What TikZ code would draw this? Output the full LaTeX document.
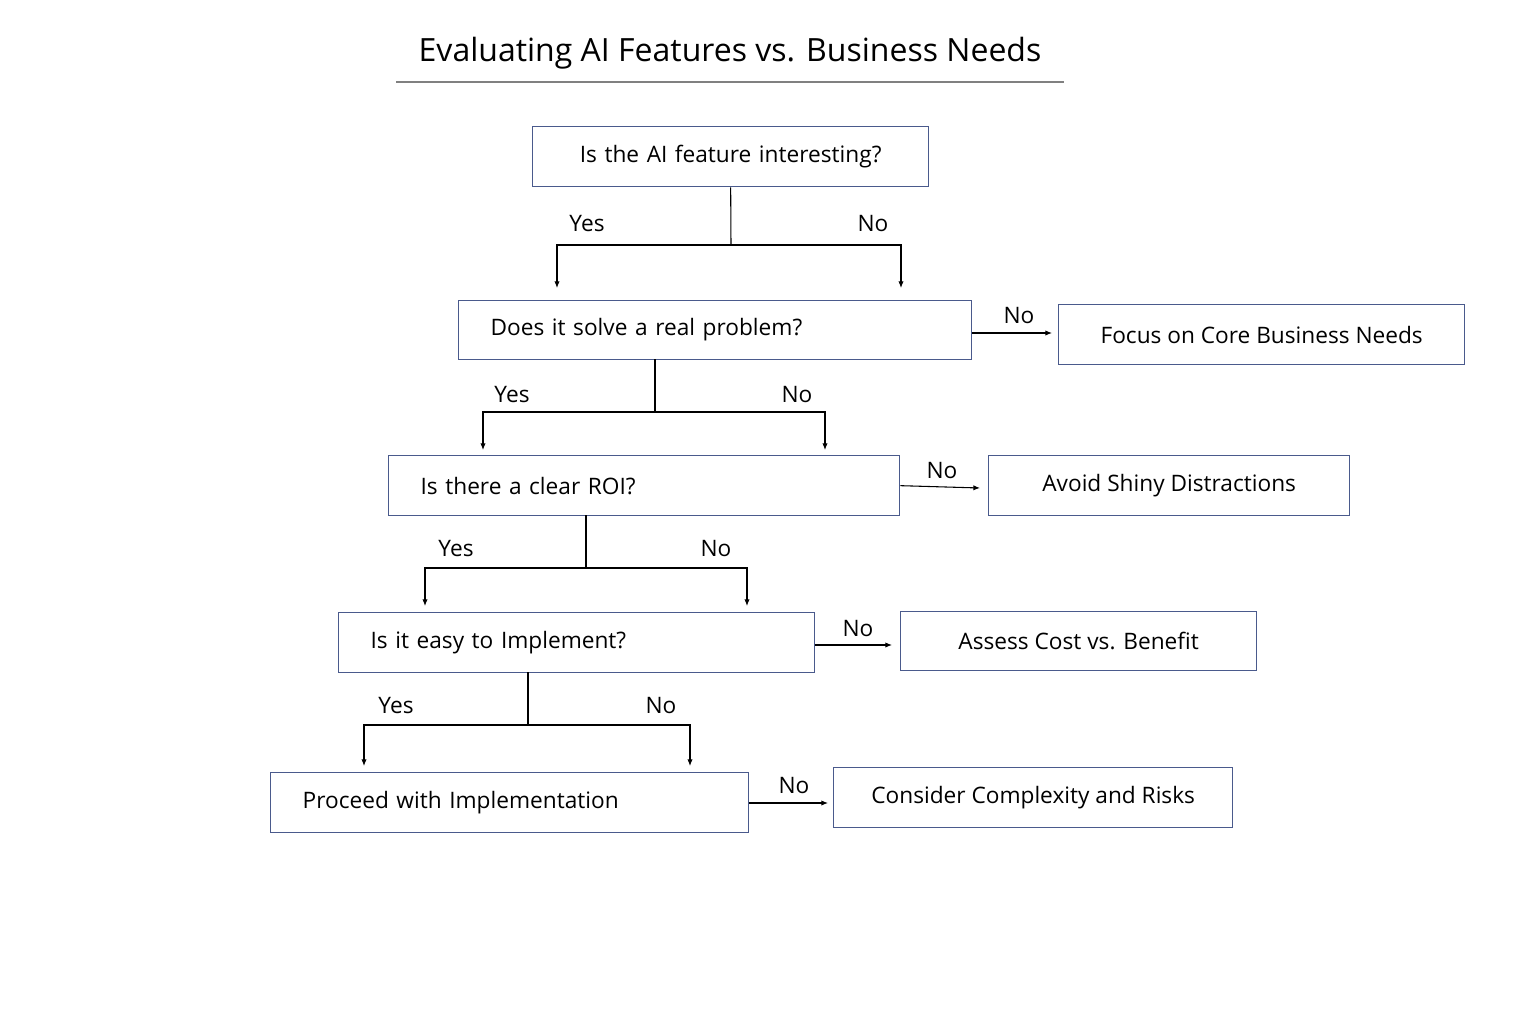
\documentclass[tikz,border=0pt]{standalone}
\usepackage{fontspec}
\setmainfont{Open Sans}
\usetikzlibrary{arrows.meta}
\definecolor{bd}{HTML}{4A5A8C}
\begin{document}
\begin{tikzpicture}[x=0.75pt,y=-0.75pt,
  q/.style={draw=bd,line width=1pt,anchor=north west,inner xsep=24pt,inner ysep=0pt,font=\fontsize{17}{20}\selectfont,align=left},
  r/.style={draw=bd,line width=1pt,anchor=north west,inner sep=0pt,font=\fontsize{17}{20}\selectfont,align=center},
  lb/.style={font=\fontsize{17}{20}\selectfont},
  ar/.style={-{Latex[length=5pt,width=4pt]},line width=0.8pt},
  ln/.style={line width=0.8pt}]
\useasboundingbox[fill=white] (0,0) rectangle (1536,1024);
\node[font=\fontsize{24}{28}\selectfont] (title) at (730,53) {Evaluating AI Features vs. Business Needs};
\draw[gray,line width=0.8pt] (396,82) coordinate (ul1) -- (1064,82) coordinate (ul2);
% question boxes
\node[q,text width={(396-64)*0.75pt},minimum height=45pt,align=center] (b1) at (532,126) {Is the AI feature interesting?};
\node[q,text width={(515-66)*0.75pt},minimum height=44pt] (b2) at (458,300) {Does it solve a real problem?};
\node[q,text width={(513-66)*0.75pt},minimum height=45pt] (b3) at (388,455) {Is there a clear ROI?};
\node[q,text width={(476-64)*0.75pt},minimum height=45pt] (b4) at (338,612) {Is it easy to Implement?};
\node[q,text width={(478-64)*0.75pt},minimum height=45pt] (b5) at (270,772) {Proceed with Implementation};
% result boxes
\node[r,minimum width=304.5pt,minimum height=45pt] (f1) at (1058,304) {Focus on Core Business Needs};
\node[r,minimum width=270.75pt,minimum height=45pt] (f2) at (988,455) {Avoid Shiny Distractions};
\node[r,minimum width=267pt,minimum height=44pt] (f3) at (900,611) {Assess Cost vs. Benefit};
\node[r,minimum width=299.25pt,minimum height=45pt] (f4) at (833,767) {Consider Complexity and Risks};
% splits
\coordinate (s1) at (731,245); \coordinate (y1) at (557,288); \coordinate (n1) at (901,288);
\draw[ln] (b1.south) -- (s1);
\draw[ar] (s1) -| (y1); \draw[ar] (s1) -| (n1);
\node[lb] at (587,224) {Yes}; \node[lb] at (873,224) {No};
\coordinate (s2) at (655,412); \coordinate (y2) at (483,450); \coordinate (n2) at (825,450);
\draw[ln] (655,359) -- (s2);
\draw[ar] (s2) -| (y2); \draw[ar] (s2) -| (n2);
\node[lb] at (512,395) {Yes}; \node[lb] at (797,395) {No};
\coordinate (s3) at (586,568); \coordinate (y3) at (425,606); \coordinate (n3) at (747,606);
\draw[ln] (586,515) -- (s3);
\draw[ar] (s3) -| (y3); \draw[ar] (s3) -| (n3);
\node[lb] at (456,549) {Yes}; \node[lb] at (716,549) {No};
\coordinate (s4) at (528,725); \coordinate (y4) at (364,766); \coordinate (n4) at (690,766);
\draw[ln] (528,672) -- (s4);
\draw[ar] (s4) -| (y4); \draw[ar] (s4) -| (n4);
\node[lb] at (396,706) {Yes}; \node[lb] at (661,706) {No};
% right arrows
\draw[ar] (b2.east |- 0,333) -- (1052,333); \node[lb] at (1019,316) {No};
\draw[ar] (b3.east) -- (980,488); \node[lb] at (942,471) {No};
\draw[ar] (b4.east |- 0,645) -- (892,645); \node[lb] at (858,629) {No};
\draw[ar] (b5.east |- 0,803) -- (828,803); \node[lb] at (794,786) {No};
\end{tikzpicture}
\end{document}
